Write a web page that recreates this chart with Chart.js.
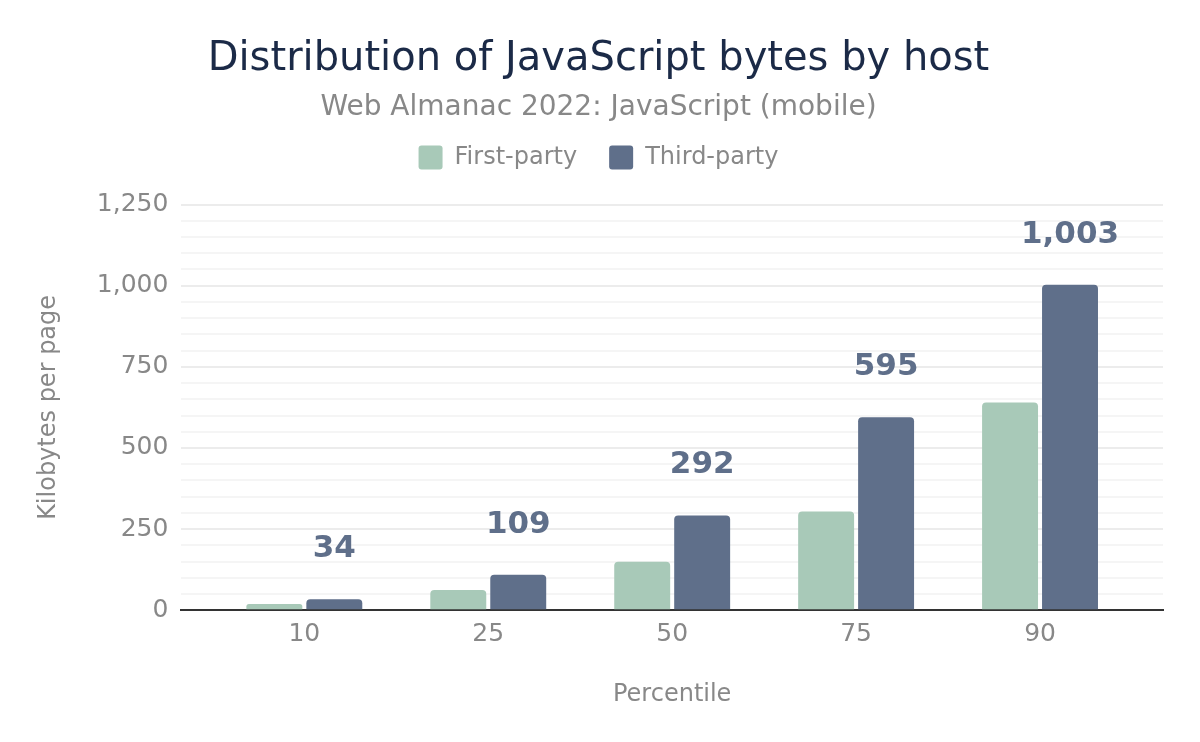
<!DOCTYPE html>
<html>
<head>
<meta charset="utf-8">
<script src="https://cdn.jsdelivr.net/npm/chart.js@4"></script>
<style>
    html, body { margin: 0; padding: 0; background: #fff; }
    #wrap { width: 1200px; height: 742px; }
</style>
</head>
<body>
<div id="wrap"><canvas id="chart" width="1200" height="742"></canvas></div>
<script>
// Data
const percentiles = ['10', '25', '50', '75', '90'];
const firstParty = [19, 62, 149, 304, 640];
const thirdParty = [34, 109, 292, 595, 1003];

const FIRST_COLOR = '#a8c9b8';
const THIRD_COLOR = '#5f6f8a';
const FONT = "'DejaVu Sans', sans-serif";

// Draw the value labels above the third-party bars
const valueLabels = {
    id: 'valueLabels',
    afterDatasetsDraw(chart) {
        const ctx = chart.ctx;
        const meta = chart.getDatasetMeta(1);
        ctx.save();
        ctx.font = 'bold 31px ' + FONT;
        ctx.fillStyle = THIRD_COLOR;
        ctx.textAlign = 'center';
        ctx.textBaseline = 'middle';
        meta.data.forEach((bar, i) => {
            ctx.fillText(thirdParty[i].toLocaleString('en-US'), bar.x, bar.y - 50);
        });
        ctx.restore();
    }
};

// Extra room under the legend
const legendGap = {
    id: 'legendGap',
    beforeInit(chart) {
        const fit = chart.legend.fit;
        chart.legend.fit = function () {
            fit.call(this);
            this.height += 25;
        };
    }
};

// Categories sit a bit inside the plot edges
const xInset = {
    id: 'xInset',
    afterLayout(chart) {
        const x = chart.scales.x;
        x._startPixel += 31;
        x._endPixel -= 31;
        x._length -= 62;
    }
};

new Chart(document.getElementById('chart'), {
    type: 'bar',
    data: {
        labels: percentiles,
        datasets: [{
            label: 'First-party',
            data: firstParty,
            backgroundColor: FIRST_COLOR,
            borderRadius: 4,
            categoryPercentage: 0.652,
            barPercentage: 0.933
        }, {
            label: 'Third-party',
            data: thirdParty,
            backgroundColor: THIRD_COLOR,
            borderRadius: 4,
            categoryPercentage: 0.652,
            barPercentage: 0.933
        }]
    },
    options: {
        responsive: false,
        animation: false,
        layout: { padding: { left: 34, right: 37, top: 24, bottom: 33 } },
        plugins: {
            title: {
                display: true,
                text: 'Distribution of JavaScript bytes by host',
                color: '#1b2a47',
                font: { family: FONT, size: 40, weight: 'normal' },
                padding: { top: 12, bottom: 4 }
            },
            subtitle: {
                display: true,
                text: 'Web Almanac 2022: JavaScript (mobile)',
                color: '#888888',
                font: { family: FONT, size: 28 },
                padding: { top: 3, bottom: -11 }
            },
            legend: {
                labels: {
                    color: '#888888',
                    font: { family: FONT, size: 24 },
                    boxWidth: 24,
                    boxHeight: 24,
                    useBorderRadius: true,
                    borderRadius: 3,
                    padding: 32
                }
            },
            tooltip: { enabled: false }
        },
        scales: {
            x: {
                grid: { display: false },
                border: { color: '#333333', width: 2 },
                ticks: { color: '#888888', font: { family: FONT, size: 25 }, padding: 1 },
                title: {
                    display: true,
                    text: 'Percentile',
                    color: '#888888',
                    font: { family: FONT, size: 24 },
                    padding: { top: 30, bottom: 0 }
                }
            },
            y: {
                min: 0,
                max: 1250,
                border: { display: false },
                grid: {
                    color: ctx => ctx.tick && ctx.tick.value % 250 === 0 ? '#ececec' : '#f5f5f5',
                    lineWidth: 2,
                    drawTicks: false
                },
                ticks: {
                    stepSize: 50,
                    autoSkip: false,
                    color: '#888888',
                    font: { family: FONT, size: 25 },
                    padding: 13,
                    callback: v => v % 250 === 0 ? v.toLocaleString('en-US') : ''
                },
                title: {
                    display: true,
                    text: 'Kilobytes per page',
                    color: '#888888',
                    font: { family: FONT, size: 24 },
                    padding: { top: 0, bottom: 21 }
                }
            }
        }
    },
    plugins: [valueLabels, legendGap, xInset]
});
</script>
</body>
</html>
